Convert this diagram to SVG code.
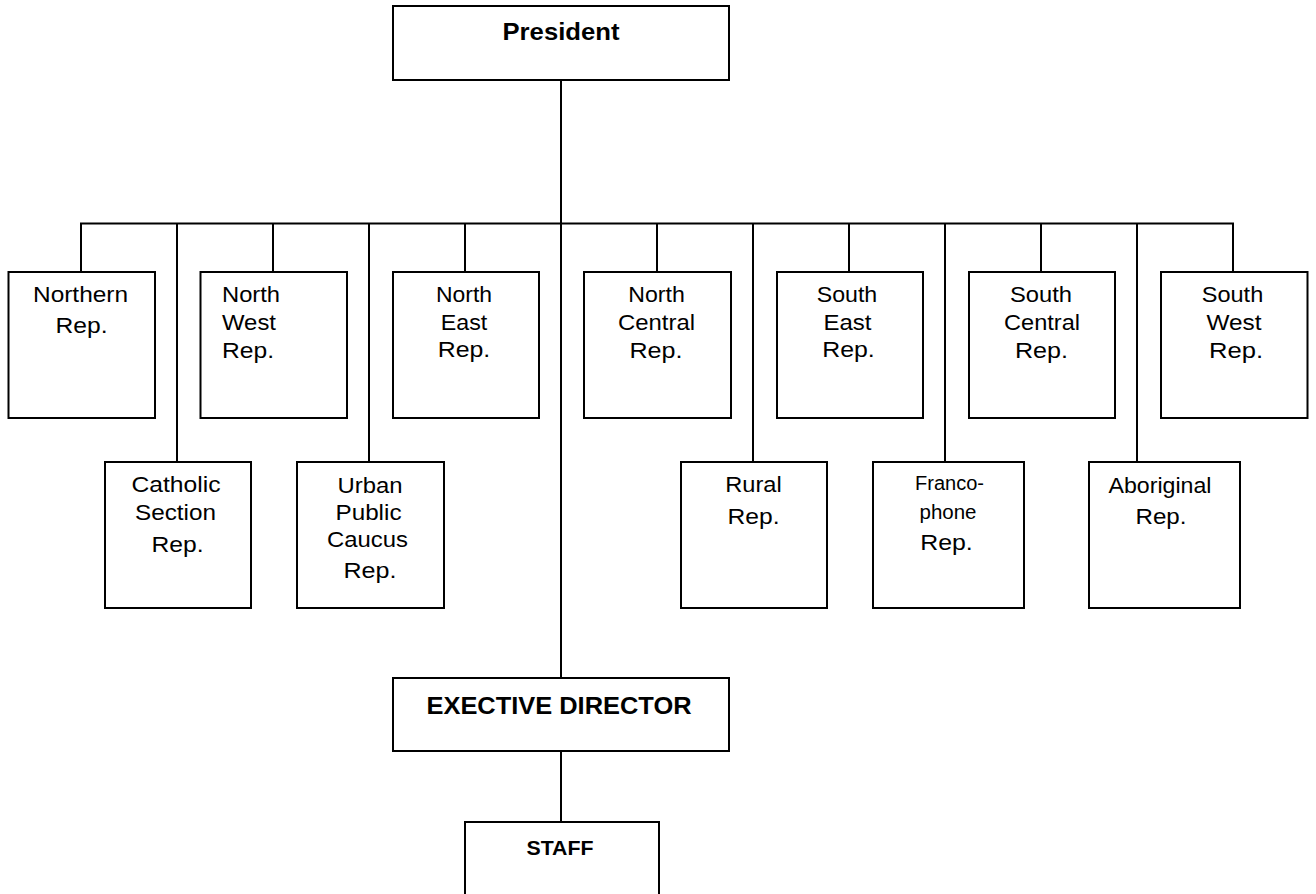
<svg xmlns="http://www.w3.org/2000/svg" width="1316" height="894" viewBox="0 0 1316 894">
<style>
rect.box{fill:#fff;stroke:#000;stroke-width:2}
.conn line{stroke:#000;stroke-width:2}
text{font-family:"Liberation Sans",Arial,sans-serif;fill:#000}
.r{font-size:22px;text-anchor:middle}
.l{font-size:22px;text-anchor:start}
.s{font-size:20px;text-anchor:middle}
.b{font-size:24px;font-weight:bold;text-anchor:middle}
</style>
<rect width="1316" height="894" fill="#fff"/>
<g class="conn" id="connectors">
<line x1="561" y1="80" x2="561" y2="678"/>
<line x1="80" y1="223.5" x2="1234" y2="223.5"/>
<line x1="81" y1="223.5" x2="81" y2="272"/>
<line x1="273" y1="223.5" x2="273" y2="272"/>
<line x1="465" y1="223.5" x2="465" y2="272"/>
<line x1="657" y1="223.5" x2="657" y2="272"/>
<line x1="849" y1="223.5" x2="849" y2="272"/>
<line x1="1041" y1="223.5" x2="1041" y2="272"/>
<line x1="1233" y1="223.5" x2="1233" y2="272"/>
<line x1="177" y1="223.5" x2="177" y2="462"/>
<line x1="369" y1="223.5" x2="369" y2="462"/>
<line x1="753" y1="223.5" x2="753" y2="462"/>
<line x1="945" y1="223.5" x2="945" y2="462"/>
<line x1="1137" y1="223.5" x2="1137" y2="462"/>
<line x1="561" y1="751" x2="561" y2="822"/>
</g>
<g id="president">
<rect class="box" x="393" y="6" width="336" height="74"/>
<text class="b" x="561" y="40" textLength="117" lengthAdjust="spacingAndGlyphs">President</text>
</g>
<g id="northern">
<rect class="box" x="8.5" y="272" width="146.5" height="146"/>
<text class="r" x="80.5" y="301.5" textLength="95" lengthAdjust="spacingAndGlyphs">Northern</text>
<text class="r" x="81.5" y="333" textLength="52" lengthAdjust="spacingAndGlyphs">Rep.</text>
</g>
<g id="north-west">
<rect class="box" x="200.5" y="272" width="146.5" height="146"/>
<text class="l" x="222" y="301.5" textLength="58" lengthAdjust="spacingAndGlyphs">North</text>
<text class="l" x="222" y="330" textLength="54" lengthAdjust="spacingAndGlyphs">West</text>
<text class="l" x="222" y="357.5" textLength="52" lengthAdjust="spacingAndGlyphs">Rep.</text>
</g>
<g id="north-east">
<rect class="box" x="393" y="272" width="146" height="146"/>
<text class="r" x="464" y="301.5" textLength="56" lengthAdjust="spacingAndGlyphs">North</text>
<text class="r" x="464" y="329.5" textLength="46.5" lengthAdjust="spacingAndGlyphs">East</text>
<text class="r" x="464" y="357" textLength="52.5" lengthAdjust="spacingAndGlyphs">Rep.</text>
</g>
<g id="north-central">
<rect class="box" x="584" y="272" width="147" height="146"/>
<text class="r" x="656.5" y="301.5" textLength="56.5" lengthAdjust="spacingAndGlyphs">North</text>
<text class="r" x="656.5" y="330" textLength="77" lengthAdjust="spacingAndGlyphs">Central</text>
<text class="r" x="656" y="357.5" textLength="53" lengthAdjust="spacingAndGlyphs">Rep.</text>
</g>
<g id="south-east">
<rect class="box" x="777" y="272" width="146" height="146"/>
<text class="r" x="847" y="301.5" textLength="60.5" lengthAdjust="spacingAndGlyphs">South</text>
<text class="r" x="847.5" y="329.5" textLength="48" lengthAdjust="spacingAndGlyphs">East</text>
<text class="r" x="848.5" y="357" textLength="52.5" lengthAdjust="spacingAndGlyphs">Rep.</text>
</g>
<g id="south-central">
<rect class="box" x="969" y="272" width="146" height="146"/>
<text class="r" x="1041" y="301.5" textLength="62" lengthAdjust="spacingAndGlyphs">South</text>
<text class="r" x="1042" y="330" textLength="76" lengthAdjust="spacingAndGlyphs">Central</text>
<text class="r" x="1041.5" y="357.5" textLength="53" lengthAdjust="spacingAndGlyphs">Rep.</text>
</g>
<g id="south-west">
<rect class="box" x="1161" y="272" width="146.5" height="146"/>
<text class="r" x="1232.5" y="301.5" textLength="61.5" lengthAdjust="spacingAndGlyphs">South</text>
<text class="r" x="1234" y="330" textLength="55" lengthAdjust="spacingAndGlyphs">West</text>
<text class="r" x="1236" y="357.5" textLength="54" lengthAdjust="spacingAndGlyphs">Rep.</text>
</g>
<g id="catholic">
<rect class="box" x="105" y="462" width="146" height="146"/>
<text class="r" x="176" y="491.5" textLength="89" lengthAdjust="spacingAndGlyphs">Catholic</text>
<text class="r" x="175.5" y="520" textLength="81" lengthAdjust="spacingAndGlyphs">Section</text>
<text class="r" x="177.5" y="551.5" textLength="52" lengthAdjust="spacingAndGlyphs">Rep.</text>
</g>
<g id="urban">
<rect class="box" x="297" y="462" width="147" height="146"/>
<text class="r" x="370" y="492.5" textLength="65" lengthAdjust="spacingAndGlyphs">Urban</text>
<text class="r" x="368.5" y="519.5" textLength="66" lengthAdjust="spacingAndGlyphs">Public</text>
<text class="r" x="367.5" y="546.5" textLength="81" lengthAdjust="spacingAndGlyphs">Caucus</text>
<text class="r" x="370" y="578" textLength="53" lengthAdjust="spacingAndGlyphs">Rep.</text>
</g>
<g id="rural">
<rect class="box" x="681" y="462" width="146" height="146"/>
<text class="r" x="753.5" y="491.5" textLength="56.5" lengthAdjust="spacingAndGlyphs">Rural</text>
<text class="r" x="753.5" y="523.5" textLength="52" lengthAdjust="spacingAndGlyphs">Rep.</text>
</g>
<g id="francophone">
<rect class="box" x="873" y="462" width="151" height="146"/>
<text class="s" x="949.5" y="490" textLength="69" lengthAdjust="spacingAndGlyphs">Franco-</text>
<text class="s" x="948" y="518.5" textLength="57" lengthAdjust="spacingAndGlyphs">phone</text>
<text class="r" x="946.5" y="550" textLength="52.5" lengthAdjust="spacingAndGlyphs">Rep.</text>
</g>
<g id="aboriginal">
<rect class="box" x="1089" y="462" width="151" height="146"/>
<text class="r" x="1160" y="493" textLength="103" lengthAdjust="spacingAndGlyphs">Aboriginal</text>
<text class="r" x="1161" y="523.5" textLength="51" lengthAdjust="spacingAndGlyphs">Rep.</text>
</g>
<g id="executive-director">
<rect class="box" x="393" y="678" width="336" height="73"/>
<text class="b" x="559" y="713.5" textLength="265" lengthAdjust="spacingAndGlyphs">EXECTIVE DIRECTOR</text>
</g>
<g id="staff">
<rect class="box" x="465" y="822" width="194" height="90"/>
<text class="b" x="560" y="855" style="font-size:21px" textLength="67" lengthAdjust="spacingAndGlyphs">STAFF</text>
</g>
</svg>
